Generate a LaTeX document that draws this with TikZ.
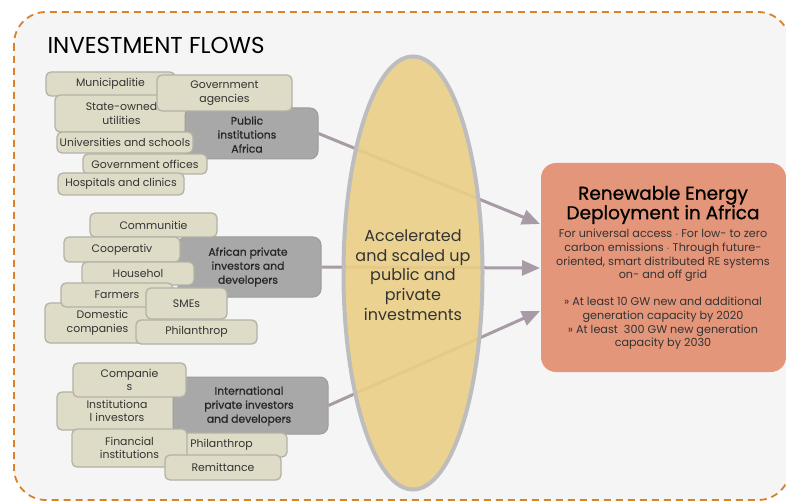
\documentclass[tikz,border=0pt]{standalone}
\usepackage{fontspec}
\setmainfont{Poppins}
\newfontfamily\medfont{Poppins}[FakeBold=0.8]
\usetikzlibrary{arrows.meta,shapes.geometric}
\definecolor{bgc}{HTML}{F5F5F5}
\definecolor{dashc}{HTML}{D9822B}
\definecolor{lboxf}{HTML}{DEDCC6}
\definecolor{lboxd}{HTML}{B3B2A6}
\definecolor{gboxf}{HTML}{A8A8A8}
\definecolor{gboxd}{HTML}{9C9C9C}
\definecolor{ellf}{HTML}{EBCF86}
\definecolor{elld}{HTML}{BDBDBD}
\definecolor{orf}{HTML}{E4967A}
\definecolor{arrc}{HTML}{A99BA6}
\definecolor{txt}{HTML}{333333}
\tikzset{
  lbox/.style={draw=lboxd, fill=lboxf, line width=1.3pt, rounded corners=5pt, inner sep=0pt,
    text=txt, font=\fontsize{10.9}{13.5}\selectfont, align=center},
  gbox/.style={draw=gboxd, fill=gboxf, line width=1pt, rounded corners=8pt, inner sep=0pt},
  gtext/.style={font=\fontsize{10.8}{14}\selectfont\medfont, text=black!85, align=center},
  flow/.style={draw=arrc, line width=3pt, -{Triangle[length=18pt,width=15pt]}},
}
\begin{document}
\begin{tikzpicture}[x=1pt,y=-1pt]
\useasboundingbox (0,0) rectangle (786,502);
% outer frame
\fill[white] (0,0) rectangle (786,502);
\draw[dashc, fill=bgc, line width=1.8pt, dash pattern=on 7pt off 5pt, rounded corners=32pt]
  (14,12) rectangle (790,500);
\node[anchor=west, font=\fontsize{23}{27}\selectfont, text=black] (title) at (44,45) {INVESTMENT FLOWS};

% arrow end points
\coordinate (e1) at (540,224);
\coordinate (e2) at (540,268);
\coordinate (e3) at (540,311);

% group 1
\node[lbox, minimum width=129pt, minimum height=24pt] (muni) at (110.5,84) {Municipalitie};
\node[lbox, minimum width=133pt, minimum height=37pt] (soe) at (121.5,113.5) {State-owned\\utilities};
\node[gbox, minimum width=133pt, minimum height=51pt] (pub) at (251.5,133.5) {};
\node[gtext] (pubt) at (247,134.5) {Public\\institutions\\Africa};
\node[lbox, minimum width=135pt, minimum height=36pt] (govag) at (224.5,93) {Government\\agencies};
\node[lbox, minimum width=136pt, minimum height=21pt] (univ) at (125,142.5) {Universities and schools};
\node[lbox, minimum width=124pt, minimum height=20pt] (govoff) at (145,164) {Government offices};
\node[lbox, minimum width=126pt, minimum height=22pt] (hosp) at (121,184) {Hospitals and clinics};

% group 2
\node[gbox, minimum width=143pt, minimum height=60pt] (afr) at (249.5,267) {};
\node[gtext] (afrt) at (248,267) {African private\\investors and\\developers};
\node[lbox, minimum width=127pt, minimum height=24pt] (comm) at (153.5,225) {Communitie};
\node[lbox, minimum width=116pt, minimum height=25pt] (coop) at (122,249.5) {Cooperativ};
\node[lbox, minimum width=112pt, minimum height=23pt] (house) at (138,273.5) {Househol};
\node[lbox, minimum width=115pt, minimum height=40pt] (dom) at (102.5,323) {Domestic\\companies\hspace*{10pt}};
\node[lbox, minimum width=112pt, minimum height=24pt] (farm) at (117,295) {Farmers};
\node[lbox, minimum width=81pt, minimum height=31pt] (sme) at (186.5,303.5) {SMEs};
\node[lbox, minimum width=121pt, minimum height=24pt] (phil) at (196.5,332) {Philanthrop};

% group 3
\node[lbox, minimum width=120pt, minimum height=38pt] (inst) at (117,411) {Institutiona\\l investors};
\node[gbox, minimum width=155pt, minimum height=57pt] (intl) at (250.5,405.5) {};
\node[gtext] (intlt) at (249,406) {International\\private investors\\and developers};
\node[lbox, minimum width=113pt, minimum height=34pt] (comp) at (129.5,380) {Companie\\s};
\node[lbox, minimum width=117pt, minimum height=24pt] (phil2) at (228.5,445) {\hspace*{-14pt}Philanthrop};
\node[lbox, minimum width=115pt, minimum height=38pt] (fin) at (129.5,448) {Financial\\institutions};
\node[lbox, minimum width=116pt, minimum height=25pt] (remit) at (223,467.5) {Remittance};

% flows
\draw[flow] (pub.east) -- (e1);
\draw[flow] (afr.east) -- (e2);
\draw[flow] (intl.east) -- (e3);

% ellipse
\node[draw=elld, fill=ellf, fill opacity=0.9, draw opacity=1, line width=4pt, ellipse, minimum width=139pt, minimum height=433pt, inner sep=0pt] (ell) at (413,273) {};
\node[text=txt, font=\fontsize{16}{19.6}\selectfont, align=center] (ellt) at (413,275) {Accelerated\\and scaled up\\public and\\private\\investments};

% target box
\node[fill=orf, rounded corners=15pt, minimum width=245pt, minimum height=209pt, inner sep=0pt] (re) at (663.5,267.5) {};
\node[text=black, font=\fontsize{18.5}{19.5}\selectfont\medfont, align=center] (ret) at (663,205) {Renewable Energy\\Deployment in Africa};
\node[text=txt, font=\fontsize{11.2}{13.6}\selectfont, align=center] (reb) at (663,289.5) {For universal access $\cdot$ For low- to zero\\carbon emissions $\cdot$ Through future-\\oriented, smart distributed RE systems\\on- and off grid\\[13.6pt]
\guillemotright\ At least 10 GW new and additional\\generation capacity by 2020\\\guillemotright\ At least\ \ 300 GW new generation\\capacity by 2030};
\end{tikzpicture}
\end{document}
